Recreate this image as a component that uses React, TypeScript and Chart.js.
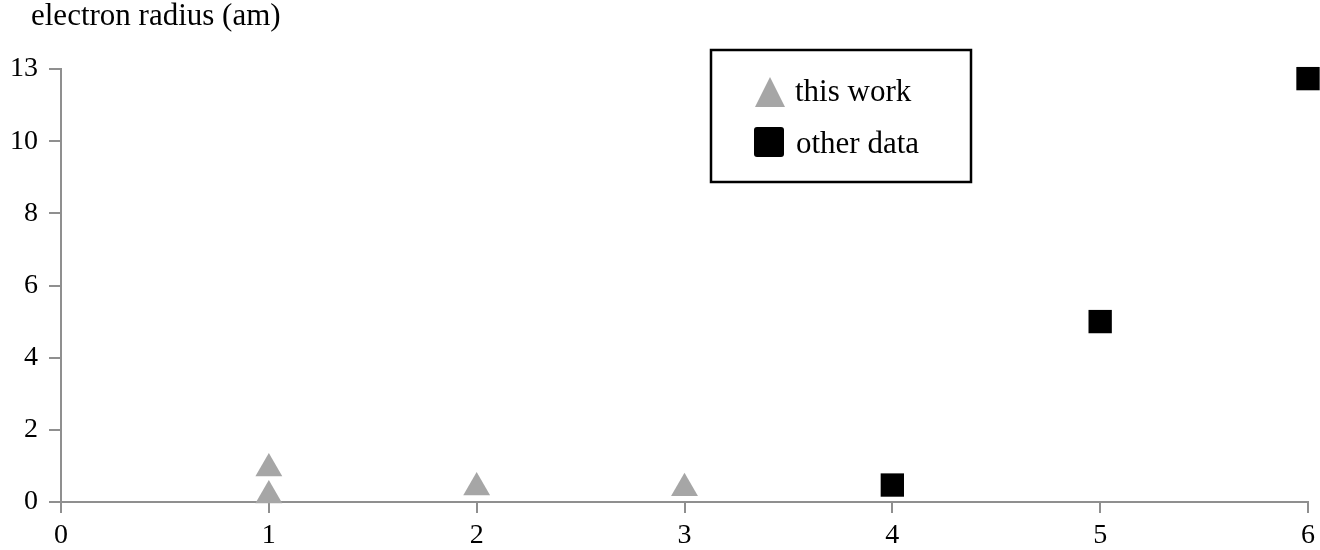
import React, { useEffect, useRef } from "react";
import { Chart, registerables } from "chart.js";

Chart.register(...registerables);

// Data (real values, in am)
const thisWorkX = [1, 1, 2, 3];
const thisWorkY = [0.93, 0.18, 0.4, 0.38];
const otherX = [4, 5, 6];
const otherY = [0.47, 5.0, 12.6];

const xTickValues = [0, 1, 2, 3, 4, 5, 6];
const yTickValues = [0, 2, 4, 6, 8, 10, 13];

const titleText = "electron radius (am)";
const seriesLabels = ["this work", "other data"];

// broken y axis: 0-10 linear, 10-13 compressed into 2 units
const toAxis = (v: number) => (v <= 10 ? v : 10 + ((v - 10) * 2) / 3);

const FONT = "'Liberation Serif', 'Times New Roman', serif";
const AXIS_GRAY = "#8f8f8f";
const TRI_GRAY = "#a6a6a6";

const overlayPlugin = {
  id: "overlay",
  afterDraw(chart: any) {
    const ctx = chart.ctx as CanvasRenderingContext2D;
    ctx.save();
    ctx.fillStyle = "#000";
    ctx.font = `31px ${FONT}`;
    ctx.textAlign = "left";
    ctx.textBaseline = "alphabetic";
    ctx.fillText(titleText, 31, 25);

    const bx = 711, by = 50, bw = 260, bh = 132;
    ctx.strokeStyle = "#000";
    ctx.lineWidth = 2.5;
    ctx.strokeRect(bx, by, bw, bh);

    const ds = chart.data.datasets;
    ctx.fillStyle = ds[0].backgroundColor;
    ctx.beginPath();
    ctx.moveTo(770, 77);
    ctx.lineTo(785, 107);
    ctx.lineTo(755, 107);
    ctx.closePath();
    ctx.fill();
    ctx.fillStyle = ds[1].backgroundColor;
    ctx.beginPath();
    if ((ctx as any).roundRect) {
      (ctx as any).roundRect(754, 127, 30, 30, 3);
    } else {
      ctx.rect(754, 127, 30, 30);
    }
    ctx.fill();

    ctx.fillStyle = "#000";
    ctx.font = `31px ${FONT}`;
    ctx.fillText(ds[0].label, 795, 101);
    ctx.fillText(ds[1].label, 796, 153);
    ctx.restore();
  },
};

export default function App() {
  const ref = useRef<HTMLCanvasElement | null>(null);

  useEffect(() => {
    if (!ref.current) return;
    const chart = new Chart(ref.current, {
      type: "scatter",
      data: {
        datasets: [
          {
            label: seriesLabels[0],
            data: thisWorkX.map((x, i) => ({ x, y: toAxis(thisWorkY[i]) })),
            pointStyle: "triangle",
            pointRadius: 15.5,
            pointHoverRadius: 15.5,
            backgroundColor: TRI_GRAY,
            borderWidth: 0,
            clip: false as any,
          },
          {
            label: seriesLabels[1],
            data: otherX.map((x, i) => ({ x, y: toAxis(otherY[i]) })),
            pointStyle: "rect",
            pointRadius: 16.5,
            pointHoverRadius: 16.5,
            backgroundColor: "#000",
            borderWidth: 0,
            clip: false as any,
          },
        ],
      },
      options: {
        animation: false,
        responsive: true,
        maintainAspectRatio: false,
        layout: { autoPadding: false, padding: { top: 69, right: 12, left: 0, bottom: 0 } },
        plugins: {
          legend: { display: false },
          tooltip: { enabled: false },
          title: { display: false },
        },
        scales: {
          x: {
            type: "linear",
            min: 0,
            max: 6,
            afterBuildTicks: (scale: any) => {
              scale.ticks = xTickValues.map((v) => ({ value: v }));
            },
            afterFit: (scale: any) => {
              scale.height = 48;
              scale.paddingLeft = 0;
              scale.paddingRight = 0;
            },
            ticks: {
              color: "#000",
              font: { family: FONT, size: 28 },
              padding: 6,
              maxRotation: 0,
              autoSkip: false,
              callback: (v: any) => String(v),
            },
            grid: {
              drawOnChartArea: false,
              drawTicks: true,
              tickLength: 11,
              color: AXIS_GRAY,
              lineWidth: 2,
            },
            border: { display: true, color: AXIS_GRAY, width: 2 },
          },
          y: {
            type: "linear",
            min: 0,
            max: 12,
            afterBuildTicks: (scale: any) => {
              scale.ticks = yTickValues.map((v) => ({ value: toAxis(v) }));
            },
            afterFit: (scale: any) => {
              scale.width = 61;
              scale.paddingTop = 0;
              scale.paddingBottom = 0;
            },
            ticks: {
              color: "#000",
              font: { family: FONT, size: 28 },
              padding: 11,
              autoSkip: false,
              callback: (_v: any, i: number) => String(yTickValues[i]),
            },
            grid: {
              drawOnChartArea: false,
              drawTicks: true,
              tickLength: 12,
              color: AXIS_GRAY,
              lineWidth: 2,
            },
            border: { display: true, color: AXIS_GRAY, width: 2 },
          },
        },
      } as any,
      plugins: [overlayPlugin],
    });
    return () => chart.destroy();
  }, []);

  return (
    <div style={{ position: "absolute", left: 0, top: 0, width: 1320, height: 550, background: "#fff" }}>
      <canvas ref={ref} />
    </div>
  );
}
